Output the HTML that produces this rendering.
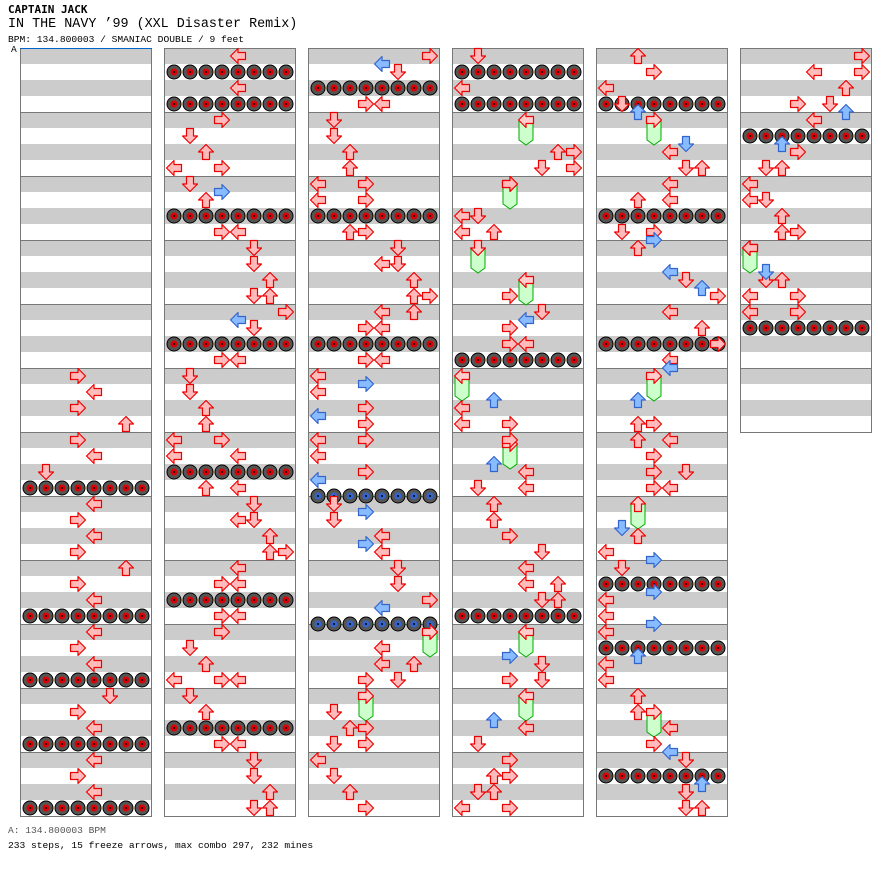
<!DOCTYPE html>
<html><head><meta charset="utf-8"><style>
body{margin:0;background:#fff;width:896px;height:876px;overflow:hidden;font-family:"Liberation Mono",monospace;}
.t{position:absolute;left:8px;white-space:nowrap;color:#000}
</style></head><body>
<div class="t" style="top:3px;font-size:11px;font-weight:bold;font-family:'DejaVu Sans Mono',monospace">CAPTAIN JACK</div>
<div class="t" style="top:17px;font-size:13.4px">IN THE NAVY ’99 (XXL Disaster Remix)</div>
<div class="t" style="top:34px;font-size:9.6px">BPM: 134.800003 / SMANIAC DOUBLE / 9 feet</div>
<div class="t" style="top:44px;left:11px;font-size:9.6px">A</div>
<div class="t" style="top:825px;font-size:9.6px;color:#555">A: 134.800003 BPM</div>
<div class="t" style="top:840px;font-size:9.6px">233 steps, 15 freeze arrows, max combo 297, 232 mines</div>
<svg id="s" width="896" height="876" style="position:absolute;left:0;top:0"></svg>
<script>
var s=document.getElementById('s'),h='';
for(var c=0;c<6;c++){var x0=20+144*c,n=c==5?6:12;
 for(var m=0;m<n;m++){var y=48+64*m;h+='<rect x="'+x0+'" y="'+y+'" width="132" height="16" fill="#ccc"/><rect x="'+x0+'" y="'+(y+32)+'" width="132" height="16" fill="#ccc"/>';
  if(m>0)h+='<line x1="'+x0+'" x2="'+(x0+132)+'" y1="'+(y+.5)+'" y2="'+(y+.5)+'" stroke="#777"/>';}
 h+='<rect x="'+(x0+.5)+'" y="48.5" width="131" height="'+(64*n)+'" fill="none" stroke="#777"/>';}
h+='<line x1="20" x2="152" y1="48.5" y2="48.5" stroke="#06c"/>';
var mines=[[0,488],[0,616],[0,680],[0,744],[0,808],[1,72],[1,104],[1,216],[1,344],[1,472],[1,600],[1,728],[2,88],[2,216],[2,344],[2,496,1],[2,624,1],[3,72],[3,104],[3,360],[3,616],[4,104],[4,216],[4,344],[4,584],[4,648],[4,776],[5,136],[5,328]];
mines.forEach(function(q){for(var i=0;i<8;i++){var cx=30+144*q[0]+16*i,cy=q[1];
 h+='<circle cx="'+cx+'" cy="'+cy+'" r="7" fill="#555" stroke="#000"/><circle cx="'+cx+'" cy="'+cy+'" r="3.5" fill="'+(q[2]?'#36c':'#d00')+'"/><path d="M'+(cx-1)+' '+cy+'h2M'+cx+' '+(cy-1)+'v2" stroke="#000" stroke-width="1"/>';}});
var A=[78,376,94,392,78,408,126,424,78,440,94,456,46,472,94,504,78,520,94,536,78,552,126,568,78,584,94,600,94,632,78,648,94,664,110,696,78,712,94,728,94,760,78,776,94,792,
238,56,238,88,222,120,190,136,206,152,174,168,222,168,190,184,206,200,222,232,238,232,254,248,254,264,270,280,254,296,270,296,286,312,254,328,222,360,238,360,190,376,190,392,206,408,206,424,174,440,222,440,174,456,238,456,206,488,238,488,254,504,238,520,254,520,270,536,270,552,286,552,238,568,222,584,238,584,222,616,238,616,222,632,190,648,206,664,174,680,222,680,238,680,190,696,206,712,222,744,238,744,254,760,254,776,254,808,270,808,270,792,
430,56,398,72,366,104,382,104,334,120,334,136,350,152,350,168,318,184,366,184,318,200,366,200,350,232,366,232,398,248,382,264,398,264,414,280,414,296,430,296,382,312,414,312,366,328,382,328,366,360,382,360,318,376,318,392,366,408,366,424,318,440,366,440,318,456,366,472,334,504,334,520,382,536,382,552,398,568,398,584,430,600,382,648,382,664,414,664,366,680,398,680,334,712,350,728,366,728,334,744,366,744,318,760,334,776,350,792,366,808,
478,56,462,88,558,152,574,152,542,168,574,168,510,184,462,216,478,216,462,232,494,232,510,296,542,312,510,328,510,344,526,344,462,408,462,424,510,424,510,440,526,472,478,488,526,488,494,504,494,520,510,536,542,552,526,568,558,584,526,584,542,600,558,600,542,664,510,680,542,680,526,728,478,744,510,760,494,776,510,776,478,792,494,792,462,808,510,808,
638,56,654,72,606,88,622,104,670,152,686,168,702,168,670,184,638,200,670,200,622,232,654,232,638,248,686,280,718,296,670,312,702,328,718,344,670,360,638,424,654,424,638,440,670,440,654,456,654,472,686,472,654,488,670,488,638,536,606,552,622,568,606,600,606,616,606,632,606,664,606,680,638,696,638,712,670,728,654,744,686,760,686,792,686,808,702,808,
862,56,814,72,862,72,846,88,798,104,830,104,814,120,798,152,766,168,782,168,750,184,750,200,766,200,782,216,782,232,798,232,750,248,766,280,782,280,750,296,798,296,750,312,798,312];
var B=[222,192,238,320,382,64,366,384,318,416,318,480,366,512,366,544,382,608,526,320,494,400,494,464,510,656,494,720,638,112,686,144,654,240,670,272,702,288,670,368,638,400,622,528,654,560,654,592,654,624,638,656,670,752,702,784,846,112,782,144,766,272];
var G=[526,128,510,192,478,256,526,288,462,384,510,452,526,640,526,704,430,640,366,704,654,128,654,384,638,512,654,720,750,256];
function lane(x){var c=Math.floor((x-20)/144);return Math.round((x-20-144*c-10)/16)%4;}
var rot=[0,270,90,180];
function arrow(x,y,f,st){h+='<g transform="translate('+x+','+y+') rotate('+rot[lane(x)]+')"><polygon points="-7.5,0 0,-7.5 0,-3.5 7.5,-3.5 7.5,3.5 0,3.5 0,7.5" fill="'+f+'" stroke="'+st+'" stroke-width="1.2" stroke-linejoin="round"/></g>';}
for(var i=0;i<G.length;i+=2){var x=G[i],y=G[i+1];h+='<path d="M'+(x-7)+' '+(y-8)+'h14v20l-7 5l-7-5z" fill="#cfc" stroke="#0a0"/>';arrow(x,y-8,'#fcc','#e00');}
for(var i=0;i<A.length;i+=2)arrow(A[i],A[i+1],'#fbb','#e00');
for(var i=0;i<B.length;i+=2)arrow(B[i],B[i+1],'#8bf','#36c');
s.innerHTML=h;
</script>
</body></html>
